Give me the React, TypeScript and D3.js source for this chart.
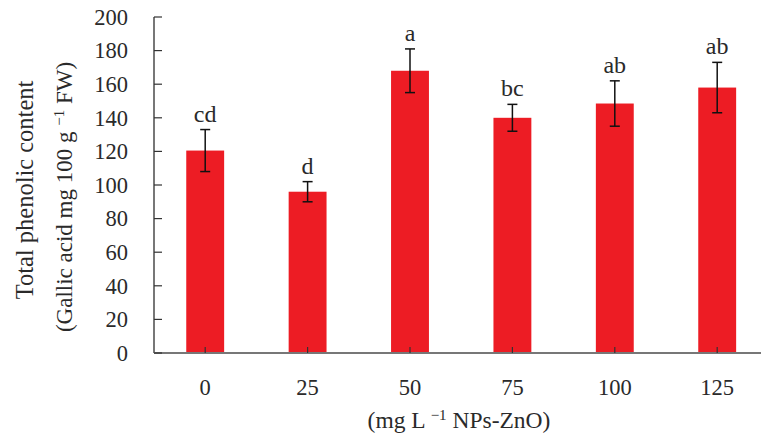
import React, { useEffect, useRef } from "react";
import * as d3 from "d3";

// NPs-ZnO concentrations (mg L-1)
const doses = ["0", "25", "50", "75", "100", "125"];
// total phenolic content (Gallic acid mg 100 g-1 FW)
const means = [120.5, 96, 168, 140, 148.5, 158];
const errors = [12.5, 6, 13, 8, 13.5, 15];
const letters = ["cd", "d", "a", "bc", "ab", "ab"];
const yTicks = [0, 20, 40, 60, 80, 100, 120, 140, 160, 180, 200];

const FONT = "'Liberation Serif', 'DejaVu Serif', serif";

const App = () => {
   const svgRef = useRef<SVGSVGElement>(null);

   useEffect(() => {
      const svg = d3.select(svgRef.current);
      svg.selectAll("*").remove();

      const left = 154;
      const bottom = 353;
      const top = 17;
      const step = 102.4;

      const x = d3
         .scaleBand()
         .domain(doses)
         .range([left, left + step * doses.length])
         .paddingInner(0.63)
         .paddingOuter(0.315);
      const y = d3.scaleLinear().domain([0, 200]).range([bottom, top]);

      const rows = doses.map((d, i) => ({
         dose: d,
         mean: means[i],
         err: errors[i],
         letter: letters[i],
      }));

      // bars
      svg.selectAll(".bar")
         .data(rows)
         .enter()
         .append("rect")
         .attr("class", "bar")
         .attr("x", (d) => x(d.dose)!)
         .attr("y", (d) => y(d.mean))
         .attr("width", x.bandwidth())
         .attr("height", (d) => bottom - y(d.mean))
         .attr("fill", "#ed1c24");

      // axes lines
      svg.append("line")
         .attr("x1", left)
         .attr("x2", 761)
         .attr("y1", bottom)
         .attr("y2", bottom)
         .attr("stroke", "#777")
         .attr("stroke-width", 2);
      svg.append("line")
         .attr("x1", left)
         .attr("x2", left)
         .attr("y1", top)
         .attr("y2", bottom)
         .attr("stroke", "#777")
         .attr("stroke-width", 2);

      // y ticks (inward) + labels
      const yg = svg.append("g");
      yg.selectAll("line")
         .data(yTicks)
         .enter()
         .append("line")
         .attr("x1", left)
         .attr("x2", left + 8)
         .attr("y1", (d) => y(d))
         .attr("y2", (d) => y(d))
         .attr("stroke", "#333")
         .attr("stroke-width", 1.2);
      yg.selectAll("text")
         .data(yTicks)
         .enter()
         .append("text")
         .attr("x", 128)
         .attr("y", (d) => y(d))
         .attr("dy", "0.35em")
         .attr("text-anchor", "end")
         .attr("font-family", FONT)
         .attr("font-size", 22.5)
         .attr("fill", "#2a2a2a")
         .text((d) => d);

      // x ticks (inward) + labels
      const xg = svg.append("g");
      xg.selectAll("line")
         .data(doses)
         .enter()
         .append("line")
         .attr("x1", (d) => x(d)! + x.bandwidth() / 2)
         .attr("x2", (d) => x(d)! + x.bandwidth() / 2)
         .attr("y1", bottom)
         .attr("y2", bottom - 6)
         .attr("stroke", "#333")
         .attr("stroke-width", 1.2);
      xg.selectAll("text")
         .data(doses)
         .enter()
         .append("text")
         .attr("x", (d) => x(d)! + x.bandwidth() / 2)
         .attr("y", 395)
         .attr("text-anchor", "middle")
         .attr("font-family", FONT)
         .attr("font-size", 22.5)
         .attr("fill", "#2a2a2a")
         .text((d) => d);

      // error bars
      const eg = svg.append("g").attr("stroke", "#111").attr("stroke-width", 1.5);
      rows.forEach((d) => {
         const cx = x(d.dose)! + x.bandwidth() / 2;
         const y1 = y(d.mean + d.err);
         const y2 = y(d.mean - d.err);
         eg.append("line").attr("x1", cx).attr("x2", cx).attr("y1", y1).attr("y2", y2);
         eg.append("line").attr("x1", cx - 5).attr("x2", cx + 5).attr("y1", y1).attr("y2", y1);
         eg.append("line").attr("x1", cx - 5).attr("x2", cx + 5).attr("y1", y2).attr("y2", y2);
      });

      // significance letters
      svg.selectAll(".letter")
         .data(rows)
         .enter()
         .append("text")
         .attr("class", "letter")
         .attr("x", (d) => x(d.dose)! + x.bandwidth() / 2)
         .attr("y", (d) => y(d.mean + d.err) - 8)
         .attr("text-anchor", "middle")
         .attr("font-family", FONT)
         .attr("font-size", 24)
         .attr("fill", "#2a2a2a")
         .text((d) => d.letter);

      // x title
      const xt = svg.append("text")
         .attr("x", 459)
         .attr("y", 428)
         .attr("text-anchor", "middle")
         .attr("font-family", FONT)
         .attr("font-size", 23.5)
         .attr("fill", "#2a2a2a");
      xt.append("tspan").text("(mg L ");
      xt.append("tspan").attr("dy", -8).attr("font-size", 15).text("\u22121");
      xt.append("tspan").attr("dy", 8).text(" NPs-ZnO)");

      // y title, two lines
      const yt = svg.append("g").attr("transform", "rotate(-90)");
      yt.append("text")
         .attr("x", -190)
         .attr("y", 33)
         .attr("text-anchor", "middle")
         .attr("font-family", FONT)
         .attr("font-size", 24.5)
         .attr("fill", "#2a2a2a")
         .text("Total phenolic content");
      const yt2 = yt.append("text")
         .attr("x", -197)
         .attr("y", 72)
         .attr("text-anchor", "middle")
         .attr("font-family", FONT)
         .attr("font-size", 23)
         .attr("fill", "#2a2a2a");
      yt2.append("tspan").text("(Gallic acid mg 100 g ");
      yt2.append("tspan").attr("dy", -8).attr("font-size", 15).text("\u22121");
      yt2.append("tspan").attr("dy", 8).text(" FW)");
   }, []);

   return (
      <svg
         ref={svgRef}
         width={761}
         height={437}
         style={{ position: "absolute", left: 0, top: 0, background: "#fff" }}
      ></svg>
   );
};

export default App;
